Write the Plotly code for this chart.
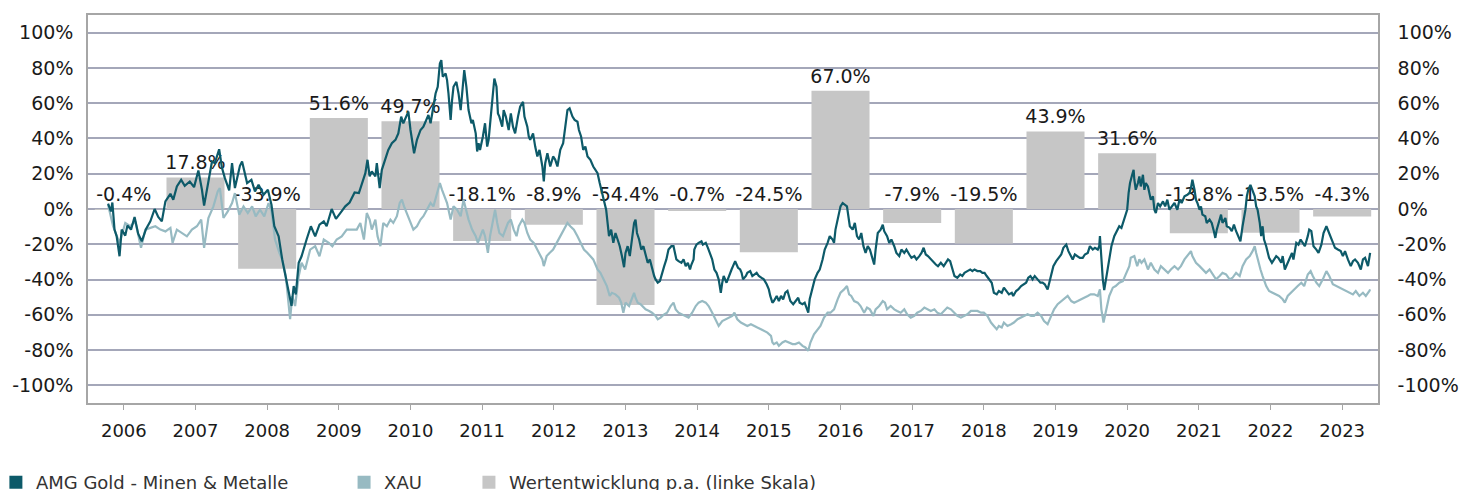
import plotly.graph_objects as go

# ---------------- data ----------------
years = list(range(2006, 2024))
annual_perf = [-0.4, 17.8, -33.9, 51.6, 49.7, -18.1, -8.9, -54.4, -0.7, -24.5,
               67.0, -7.9, -19.5, 43.9, 31.6, -13.8, -13.5, -4.3]

amg_dates = [
    2006.28, 2006.32, 2006.34, 2006.37, 2006.40, 2006.44, 2006.47, 2006.52, 2006.55, 2006.60,
    2006.65, 2006.70, 2006.75, 2006.81, 2006.87, 2006.93, 2006.98, 2007.03, 2007.08, 2007.15,
    2007.19, 2007.24, 2007.30, 2007.35, 2007.42, 2007.48, 2007.54, 2007.59, 2007.62, 2007.67,
    2007.73, 2007.77, 2007.83, 2007.87, 2007.91, 2007.97, 2008.01, 2008.05, 2008.12, 2008.15,
    2008.22, 2008.28, 2008.33, 2008.38, 2008.45, 2008.51, 2008.56, 2008.60, 2008.66, 2008.71,
    2008.76, 2008.81, 2008.84, 2008.87, 2008.90, 2008.94, 2008.98, 2009.05, 2009.11, 2009.17,
    2009.23, 2009.29, 2009.33, 2009.40, 2009.46, 2009.52, 2009.59, 2009.65, 2009.72,
    2009.78, 2009.82, 2009.87, 2009.90, 2009.93, 2009.96, 2010.01, 2010.03, 2010.07, 2010.10,
    2010.15, 2010.19, 2010.24, 2010.29, 2010.33, 2010.37, 2010.40, 2010.44, 2010.47, 2010.50,
    2010.53, 2010.55, 2010.59, 2010.64, 2010.68, 2010.72, 2010.75, 2010.78, 2010.81, 2010.85,
    2010.88, 2010.91, 2010.93, 2010.95, 2010.99, 2011.01, 2011.03, 2011.06, 2011.08, 2011.10,
    2011.14, 2011.17, 2011.20, 2011.22, 2011.25, 2011.28, 2011.31, 2011.35, 2011.37, 2011.41,
    2011.43, 2011.45, 2011.47, 2011.51, 2011.54, 2011.57, 2011.59, 2011.62, 2011.65, 2011.67,
    2011.70, 2011.72, 2011.74, 2011.78, 2011.80, 2011.83, 2011.87, 2011.90, 2011.93, 2011.96,
    2012.00, 2012.03, 2012.07, 2012.09, 2012.13, 2012.15, 2012.17, 2012.21, 2012.24, 2012.27,
    2012.30, 2012.34, 2012.36, 2012.38, 2012.41, 2012.45, 2012.49, 2012.52, 2012.55, 2012.59,
    2012.63, 2012.66, 2012.69, 2012.72, 2012.76, 2012.79, 2012.83, 2012.85, 2012.88, 2012.91,
    2012.94, 2012.97, 2013.01, 2013.05, 2013.08, 2013.11, 2013.14,
    2013.23, 2013.27, 2013.30, 2013.33, 2013.36, 2013.39, 2013.42, 2013.45, 2013.48, 2013.50,
    2013.53, 2013.56, 2013.59, 2013.62, 2013.64, 2013.66, 2013.69, 2013.72, 2013.75, 2013.78,
    2013.81, 2013.84, 2013.87, 2013.90, 2013.92, 2013.95, 2013.98, 2014.01, 2014.04, 2014.07,
    2014.10, 2014.14, 2014.17, 2014.18, 2014.21, 2014.24, 2014.28, 2014.31, 2014.34, 2014.37,
    2014.40, 2014.42, 2014.45, 2014.46, 2014.49, 2014.52, 2014.56, 2014.58, 2014.62, 2014.65,
    2014.68, 2014.71, 2014.74, 2014.77, 2014.80, 2014.83, 2014.85, 2014.87, 2014.91, 2014.94,
    2014.98, 2015.00, 2015.03, 2015.05, 2015.07, 2015.10, 2015.12, 2015.14, 2015.18, 2015.20,
    2015.24, 2015.27, 2015.30, 2015.33, 2015.36, 2015.39, 2015.43, 2015.47, 2015.50, 2015.52,
    2015.55, 2015.57, 2015.61, 2015.64, 2015.67, 2015.70, 2015.73, 2015.76, 2015.78, 2015.80,
    2015.84, 2015.87, 2015.91, 2015.93, 2015.97, 2016.00, 2016.03, 2016.05, 2016.07, 2016.11,
    2016.14, 2016.18, 2016.21, 2016.25, 2016.28, 2016.32, 2016.35, 2016.39, 2016.41, 2016.43,
    2016.46, 2016.48, 2016.50, 2016.53, 2016.56, 2016.59,
    2016.63, 2016.67, 2016.70, 2016.73, 2016.76, 2016.79, 2016.82, 2016.85, 2016.88, 2016.91,
    2016.95, 2016.97, 2016.99, 2017.02, 2017.06, 2017.09, 2017.11, 2017.15, 2017.18, 2017.21,
    2017.25, 2017.28, 2017.32, 2017.35, 2017.39, 2017.42, 2017.46, 2017.49, 2017.53, 2017.56,
    2017.60, 2017.63, 2017.66, 2017.69, 2017.72, 2017.76, 2017.80, 2017.83, 2017.86, 2017.90,
    2017.94, 2017.97, 2018.00, 2018.03, 2018.06, 2018.09, 2018.13, 2018.17, 2018.20, 2018.23,
    2018.27, 2018.31, 2018.34, 2018.37, 2018.41, 2018.45, 2018.48, 2018.51, 2018.54, 2018.57,
    2018.61, 2018.64, 2018.68, 2018.71, 2018.75, 2018.78, 2018.82, 2018.85, 2018.89, 2018.91,
    2018.95, 2018.98, 2019.02, 2019.05, 2019.09, 2019.12, 2019.15, 2019.18, 2019.21, 2019.25,
    2019.29, 2019.32, 2019.35, 2019.39, 2019.41, 2019.45, 2019.47, 2019.51, 2019.54, 2019.58,
    2019.61, 2019.65, 2019.68, 2019.71, 2019.74, 2019.77, 2019.81, 2019.84, 2019.88, 2019.91,
    2019.95, 2019.98, 2020.02, 2020.05, 2020.09, 2020.11, 2020.12, 2020.14, 2020.16, 2020.18,
    2020.22, 2020.25, 2020.28, 2020.32, 2020.36, 2020.39, 2020.42, 2020.46, 2020.50, 2020.52,
    2020.54, 2020.57, 2020.59, 2020.60, 2020.62, 2020.65, 2020.67, 2020.69, 2020.72, 2020.74,
    2020.76, 2020.79, 2020.81, 2020.83, 2020.86, 2020.88, 2020.90, 2020.93, 2020.96, 2021.00,
    2021.03, 2021.06, 2021.09, 2021.12, 2021.16, 2021.20, 2021.23, 2021.26, 2021.30, 2021.34,
    2021.37, 2021.39, 2021.41, 2021.44, 2021.46, 2021.48, 2021.51, 2021.53, 2021.55, 2021.59,
    2021.61, 2021.65, 2021.68, 2021.71, 2021.73, 2021.75, 2021.79, 2021.81, 2021.83, 2021.87,
    2021.89, 2021.93, 2021.96, 2021.99, 2022.02, 2022.05, 2022.08, 2022.11, 2022.15, 2022.17,
    2022.19, 2022.22, 2022.25, 2022.28, 2022.30, 2022.32, 2022.35, 2022.37, 2022.39, 2022.41,
    2022.44, 2022.46, 2022.48, 2022.52, 2022.55, 2022.58, 2022.61, 2022.65, 2022.67, 2022.70,
    2022.73, 2022.76, 2022.80, 2022.82, 2022.86, 2022.89, 2022.92, 2022.95, 2022.98, 2023.02,
    2023.04, 2023.07, 2023.10, 2023.14, 2023.17, 2023.21, 2023.24, 2023.28, 2023.30, 2023.34,
    2023.37, 2023.40, 2023.44, 2023.48, 2023.51, 2023.54, 2023.58, 2023.62, 2023.65, 2023.68,
    2023.72, 2023.76, 2023.79, 2023.82, 2023.86, 2023.88, 2023.89,
]
amg_values = [
    3.0, -1.3, 3.7, -11.7, -15.5, -26.8, -11.7, -15.1, -9.4, -11.7,
    -4.5, -14.0, -18.3, -11.3, -7.0, 0.0, -4.5, -7.0, 4.3, 8.6,
    5.3, 12.8, 16.5, 13.2, 15.6, 12.4, 21.8, 10.9, 1.9, 12.8,
    26.9, 26.0, 33.9, 23.2, 17.5, 10.5, 26.0, 11.9, 24.5, 26.9,
    14.7, 16.5, 9.9, 13.7, 8.1, 10.9, 2.4, -9.8, -15.5, -28.6,
    -38.1, -47.5, -55.0, -43.7, -48.4, -30.5, -26.8, -17.3, -9.8, -15.5,
    -8.9, -7.0, -9.8, 0.0, -5.6, -2.3, 1.5, 3.7, 9.4,
    9.0, 14.7, 20.3, 27.9, 18.5, 21.3, 18.5, 26.0, 11.9, 22.2,
    27.9, 33.5, 37.3, 39.2, 42.9, 52.4, 48.6, 52.4, 55.2, 44.8,
    35.4, 31.6, 39.2, 44.8, 46.7, 50.5, 53.3, 48.6, 56.1, 65.5,
    69.3, 82.5, 84.4, 75.0, 76.8, 73.1, 65.5, 50.5, 61.8, 69.3,
    72.1, 65.5, 56.1, 67.4, 78.7, 69.3, 56.1, 48.6, 50.5, 42.9,
    32.6, 37.3, 33.5, 41.1, 48.6, 35.4, 39.2, 52.4, 63.7, 74.0,
    69.3, 54.2, 52.4, 46.7, 56.1, 52.4, 44.8, 54.2, 46.7, 42.9,
    52.4, 58.0, 60.8, 52.4, 46.7, 41.1, 39.2, 42.9, 35.4, 29.8,
    33.5, 24.1, 15.6, 26.0, 31.6, 24.1, 29.8, 27.9, 24.1, 33.5,
    37.3, 48.6, 56.1, 57.1, 52.4, 50.5, 49.5, 44.8, 41.1, 33.5,
    35.4, 29.8, 27.9, 24.1, 22.2, 20.3, 14.7,
    -0.4, -15.4, -11.7, -19.2, -13.6, -17.3, -21.1, -26.7, -33.0, -24.9,
    -21.1, -26.7, -15.4, -7.9, -6.0, -13.6, -17.3, -23.0, -21.1, -26.7,
    -30.5, -28.6, -34.3, -38.0, -39.9, -41.8, -40.9, -36.2, -32.4, -28.6,
    -23.0, -21.1, -21.1, -23.0, -28.6, -29.6, -30.5, -28.6, -32.4, -30.5,
    -34.3, -31.5, -28.6, -23.0, -20.2, -19.2, -18.3, -20.2, -19.2, -22.0,
    -24.9, -28.6, -34.3, -36.2, -39.9, -47.5, -41.8, -38.0, -41.8, -38.0,
    -34.3, -32.4, -29.6, -31.5, -33.3, -34.3, -36.2, -39.9, -38.0, -36.2,
    -35.2, -38.0, -37.1, -36.2, -38.0, -39.0, -39.9, -42.7, -45.6, -49.3,
    -53.1, -52.2, -49.3, -52.2, -49.3, -51.2, -47.5, -46.5, -49.3, -52.2,
    -54.0, -52.2, -50.3, -53.1, -54.0, -53.1, -56.9, -58.8, -51.2, -43.7,
    -39.9, -36.2, -34.3, -28.6, -23.0, -19.2, -15.4, -17.3, -19.2, -11.7,
    -6.0, -2.3, 1.5, 3.4, 2.4, 1.5,
    -9.8, -11.7, -7.9, -15.4, -17.3, -13.6, -21.1, -24.9, -21.1, -23.0,
    -28.6, -31.5, -23.0, -13.6, -11.7, -8.9, -12.6, -15.4, -19.2, -17.3,
    -21.1, -24.9, -26.7, -23.0, -24.9, -23.0, -25.8, -27.7, -26.7, -28.6,
    -26.7, -24.9, -22.0, -25.8, -26.7, -28.6, -30.5, -31.5, -32.4, -30.5,
    -32.4, -30.5, -28.6, -29.6, -34.3, -38.0, -39.0, -37.1, -38.0, -36.2,
    -35.2, -34.3, -35.2, -34.3, -35.2, -35.2, -36.2, -36.2, -38.0, -39.9,
    -41.8, -47.5, -48.4, -46.5, -47.5, -44.6, -46.5, -48.4, -47.5, -49.3,
    -46.5, -45.6, -43.7, -42.7, -41.8, -39.0, -38.0, -39.9, -38.0, -39.9,
    -41.8, -41.8, -42.7, -45.6, -41.8, -34.3, -32.4, -29.6, -27.7, -25.8,
    -22.0, -20.2, -23.9, -26.7, -28.6, -25.8, -26.7, -27.7, -27.7, -25.8,
    -24.9, -21.1, -23.0, -22.0, -23.0, -21.1, -15.4, -30.5, -39.9, -46.0,
    -36.2, -28.6, -21.1, -15.4, -12.6, -9.8, -10.7, -6.0, -0.4, 9.0,
    14.7, 19.4, 22.2, 16.6, 10.9, 14.7, 18.5, 12.8, 19.4, 10.9,
    14.7, 12.8, 9.0, 5.3, 7.2, -0.4, -2.3, 3.4, 1.5, 4.3,
    1.5, 5.3, -0.4, 1.5, 3.4, -0.4, 5.3, 3.4, 7.2, 8.1,
    9.0, 11.9, 16.6, 10.9, 5.3, 3.4, -0.4, 1.5, -3.2, -4.1,
    -7.9, -6.0, -7.9, -12.6, -16.4, -11.7, -6.0, -3.2, -7.9, -5.1,
    -9.8, -10.7, -12.6, -8.9, -12.6, -15.4, -18.3, -9.8, -0.4, 7.2,
    10.9, 13.7, 10.9, 7.2, 1.5, -0.4, -7.9, -15.4, -9.8, -17.3,
    -21.1, -24.9, -27.7, -30.5, -28.6, -26.7, -27.7, -30.5, -26.7, -34.3,
    -31.5, -28.6, -24.9, -28.6, -19.2, -20.2, -17.3, -19.2, -21.1, -15.4,
    -11.7, -12.6, -21.1, -23.0, -24.9, -20.2, -13.6, -9.8, -11.7, -15.4,
    -19.2, -22.0, -23.0, -23.9, -26.7, -23.9, -28.6, -32.4, -29.6, -28.6,
    -30.5, -34.3, -28.6, -27.7, -32.4, -27.7, -24.9,
]

xau_dates = [
    2006.28, 2006.35, 2006.44, 2006.52, 2006.59, 2006.66, 2006.74, 2006.80, 2006.87, 2006.94,
    2007.01, 2007.08, 2007.15, 2007.18, 2007.24, 2007.31, 2007.38, 2007.45, 2007.52, 2007.58,
    2007.62, 2007.68, 2007.75, 2007.81, 2007.84, 2007.89, 2007.95, 2008.01, 2008.05, 2008.11,
    2008.17, 2008.23, 2008.29, 2008.34, 2008.40, 2008.46, 2008.52, 2008.56, 2008.61, 2008.67,
    2008.71, 2008.76, 2008.80, 2008.82, 2008.85, 2008.89, 2008.94, 2008.98, 2009.03, 2009.10,
    2009.17, 2009.23, 2009.29, 2009.36, 2009.41, 2009.47, 2009.54, 2009.61,
    2009.75, 2009.80, 2009.85, 2009.89, 2009.93, 2009.96, 2010.01, 2010.04, 2010.08, 2010.12,
    2010.17, 2010.22, 2010.26, 2010.31, 2010.35, 2010.38, 2010.41, 2010.45, 2010.50, 2010.54,
    2010.59, 2010.64, 2010.68, 2010.73, 2010.78, 2010.82, 2010.87, 2010.91, 2010.94, 2010.97,
    2011.01, 2011.06, 2011.10, 2011.15, 2011.20, 2011.24, 2011.28, 2011.31, 2011.36, 2011.41,
    2011.44, 2011.47, 2011.51, 2011.54, 2011.58, 2011.61, 2011.65, 2011.68, 2011.71, 2011.74,
    2011.79, 2011.82, 2011.86, 2011.90, 2011.94, 2011.98, 2012.01, 2012.06, 2012.09, 2012.13,
    2012.17, 2012.22, 2012.27, 2012.30, 2012.34, 2012.36, 2012.40, 2012.44, 2012.49, 2012.54,
    2012.59, 2012.64, 2012.69, 2012.73, 2012.78, 2012.83, 2012.87, 2012.92, 2012.97, 2013.01,
    2013.05, 2013.11, 2013.15,
    2013.24, 2013.28, 2013.31, 2013.36, 2013.41, 2013.44, 2013.47, 2013.50, 2013.55, 2013.59,
    2013.62, 2013.64, 2013.67, 2013.71, 2013.75, 2013.78, 2013.83, 2013.87, 2013.92, 2013.95,
    2013.99, 2014.04, 2014.08, 2014.13, 2014.17, 2014.20, 2014.24, 2014.29, 2014.34, 2014.38,
    2014.43, 2014.48, 2014.52, 2014.57, 2014.62, 2014.66, 2014.71, 2014.76, 2014.80, 2014.85,
    2014.90, 2014.94, 2014.99, 2015.02, 2015.06, 2015.11, 2015.15, 2015.20, 2015.25, 2015.29,
    2015.34, 2015.39, 2015.43, 2015.48, 2015.53, 2015.55, 2015.57, 2015.61, 2015.64, 2015.69,
    2015.73, 2015.78, 2015.83, 2015.87, 2015.92, 2015.97, 2016.01, 2016.05, 2016.08, 2016.13,
    2016.18, 2016.22, 2016.27, 2016.32,
    2016.36, 2016.41, 2016.46, 2016.50, 2016.55, 2016.59, 2016.62, 2016.65, 2016.69, 2016.74,
    2016.78, 2016.83, 2016.87, 2016.91, 2016.96, 2016.99, 2017.04, 2017.09, 2017.12, 2017.15,
    2017.20, 2017.25, 2017.29, 2017.34, 2017.39, 2017.43, 2017.48, 2017.53, 2017.57, 2017.62,
    2017.67, 2017.71, 2017.76, 2017.81, 2017.85, 2017.90, 2017.95, 2017.99, 2018.04, 2018.09,
    2018.13, 2018.18, 2018.22, 2018.27, 2018.32, 2018.36, 2018.41, 2018.46, 2018.50, 2018.55,
    2018.60, 2018.64, 2018.68, 2018.71, 2018.75, 2018.78, 2018.83, 2018.88, 2018.92, 2018.97,
    2019.02, 2019.06, 2019.11, 2019.16, 2019.20, 2019.25, 2019.30, 2019.34, 2019.39, 2019.44,
    2019.48, 2019.53, 2019.58, 2019.62, 2019.67, 2019.72, 2019.76, 2019.81, 2019.85, 2019.90,
    2019.95, 2019.99, 2020.04, 2020.09, 2020.12, 2020.14, 2020.17, 2020.19, 2020.22, 2020.25,
    2020.30, 2020.34, 2020.39, 2020.44, 2020.48, 2020.53, 2020.55,
    2020.60, 2020.64, 2020.67, 2020.70, 2020.74, 2020.79, 2020.83, 2020.88, 2020.93, 2020.97,
    2021.02, 2021.07, 2021.11, 2021.16, 2021.21, 2021.25, 2021.30, 2021.34, 2021.37, 2021.39,
    2021.41, 2021.46, 2021.51, 2021.55, 2021.60, 2021.65, 2021.69, 2021.74, 2021.79, 2021.83,
    2021.88, 2021.93, 2021.97, 2022.02, 2022.07, 2022.11, 2022.16, 2022.21, 2022.25, 2022.28,
    2022.30, 2022.32, 2022.36, 2022.39, 2022.44, 2022.48, 2022.53, 2022.58, 2022.62, 2022.67,
    2022.70, 2022.74, 2022.79, 2022.83, 2022.88, 2022.93, 2022.97, 2023.02, 2023.06, 2023.09,
    2023.14, 2023.18, 2023.23, 2023.28, 2023.32, 2023.37, 2023.42, 2023.46, 2023.51, 2023.55,
    2023.60, 2023.65, 2023.69, 2023.74, 2023.79, 2023.83, 2023.88, 2023.89,
]
xau_values = [
    2.4, -9.8, -19.2, -7.9, -9.8, -7.0, -22.0, -11.7, -10.7, -9.8,
    -11.7, -12.7, -10.7, -19.2, -11.7, -13.6, -15.5, -11.7, -9.8, -6.0,
    -22.0, -5.1, 1.5, 9.9, 11.9, -5.1, -1.4, 3.4, 9.0, -3.2,
    1.5, -2.3, 1.5, -4.2, -0.4, -4.2, 3.4, -1.4, -17.3, -24.9,
    -28.6, -38.1, -53.1, -62.5, -49.4, -55.0, -38.1, -30.5, -34.3, -23.0,
    -21.1, -26.8, -17.3, -19.2, -21.1, -17.3, -15.5, -11.7,
    -11.7, -7.9, -17.3, -2.3, -6.0, -11.7, -6.0, -15.4, -21.1, -7.9,
    -9.8, -6.0, -7.9, -4.1, 3.4, 5.3, 1.5, -2.3, -7.9, -11.7,
    -9.8, -6.0, -4.1, -0.4, 3.4, 1.5, 9.0, 14.7, 10.9, 7.2,
    3.4, -6.0, 1.5, -0.4, -4.1, 5.3, -2.3, -6.0, -11.7, -15.4,
    -19.2, -15.4, -11.7, -15.4, -24.9, -15.4, -6.0, -0.4, -7.9, -13.6,
    -15.4, -11.7, -7.9, -6.0, -11.7, -15.4, -9.8, -6.0, -7.9, -13.6,
    -17.3, -19.2, -23.0, -24.9, -28.6, -32.4, -26.7, -24.9, -23.0, -19.2,
    -15.4, -11.7, -7.9, -9.8, -11.7, -15.4, -19.2, -23.0, -24.9, -26.7,
    -28.6, -34.3, -36.2,
    -43.7, -49.3, -47.5, -48.4, -50.3, -53.1, -58.8, -53.1, -55.0, -51.2,
    -47.5, -50.3, -53.1, -54.0, -55.9, -56.9, -57.8, -58.8, -60.6, -62.5,
    -61.6, -59.7, -58.8, -55.0, -53.1, -56.9, -58.8, -59.7, -60.6, -61.6,
    -58.8, -55.0, -53.1, -52.2, -53.1, -55.0, -58.8, -62.5, -66.3, -63.5,
    -62.5, -61.6, -60.6, -58.8, -62.5, -64.4, -65.3, -66.3, -65.3, -66.3,
    -67.2, -68.2, -69.1, -70.1, -71.9, -75.7, -76.6, -75.7, -77.6, -75.7,
    -74.8, -75.7, -76.6, -76.6, -75.7, -77.6, -78.5, -80.4, -75.7, -71.0,
    -68.2, -66.3, -61.6, -58.8,
    -58.8, -56.9, -51.2, -47.5, -45.6, -43.7, -48.4, -49.3, -52.2, -53.1,
    -55.0, -58.8, -55.9, -56.9, -60.6, -56.9, -55.0, -52.2, -53.1, -56.9,
    -55.0, -56.9, -57.8, -58.8, -56.9, -59.7, -61.6, -60.6, -58.8, -57.8,
    -55.9, -56.9, -57.8, -56.9, -58.8, -59.7, -57.8, -55.9, -56.9, -58.8,
    -60.6, -61.6, -60.6, -59.7, -57.8, -57.8, -57.8, -58.8, -58.8, -60.6,
    -64.4, -66.3, -68.2, -66.3, -67.2, -64.4, -66.3, -65.3, -64.4, -62.5,
    -61.6, -60.6, -59.7, -60.6, -60.6, -58.8, -60.6, -63.5, -65.3, -60.6,
    -56.9, -54.0, -52.2, -51.2, -49.3, -52.2, -53.1, -52.2, -51.2, -50.3,
    -49.3, -48.4, -48.4, -49.3, -45.6, -56.9, -64.4, -60.6, -53.1, -49.3,
    -44.6, -43.7, -41.8, -40.9, -37.1, -32.4, -27.7,
    -26.7, -32.4, -28.6, -30.5, -28.6, -34.3, -30.5, -34.3, -36.2, -32.4,
    -34.3, -36.2, -34.3, -32.4, -34.3, -32.4, -28.6, -26.7, -24.9, -23.9,
    -26.7, -30.5, -32.4, -34.3, -36.2, -34.3, -37.1, -39.9, -38.0, -36.2,
    -37.1, -39.9, -39.0, -36.2, -38.0, -32.4, -28.6, -26.7, -23.9, -21.1,
    -24.9, -28.6, -34.3, -38.0, -43.7, -46.5, -47.5, -48.4, -49.3, -51.2,
    -53.1, -49.3, -47.5, -45.6, -43.7, -41.8, -43.7, -37.1, -35.2, -38.0,
    -41.8, -43.7, -39.9, -35.2, -38.0, -42.7, -43.7, -44.6, -45.6, -46.5,
    -47.5, -48.4, -46.5, -49.3, -47.5, -49.3, -46.5, -45.6,
]

y_ticks = [-100, -80, -60, -40, -20, 0, 20, 40, 60, 80, 100]

# ---------------- style ----------------
FONT = "DejaVu Sans"
DARK = "#0d5a69"
LIGHT = "#97bac2"
BAR = "#c6c6c6"
GRID = "#a4a7b9"
BORDER = "#a6a6a6"
TXT = "#1a1a1a"

# page body adds an 8px offset; figure sized so the plot area lands where intended
W, H = 1460, 482
M_L, M_R, M_T, M_B = 80, 90, 7, 87
Y_RANGE = [-110, 110]
px_per_unit = (H - M_T - M_B) / (Y_RANGE[1] - Y_RANGE[0])
LABEL_OFFSET_PX = 13

centers = [y + 0.5 for y in years]
label_y = [max(v, 0) + LABEL_OFFSET_PX / px_per_unit for v in annual_perf]
label_txt = [f"{v:.1f}%" for v in annual_perf]

fig = go.Figure()
fig.add_trace(go.Bar(x=centers, y=annual_perf, width=0.81, marker_color=BAR,
                     marker_line_width=0, showlegend=False, hoverinfo="skip"))
fig.add_trace(go.Scatter(x=centers, y=label_y, mode="text", text=label_txt,
                         textposition="middle center",
                         textfont=dict(family=FONT, size=19, color=TXT),
                         showlegend=False, hoverinfo="skip", cliponaxis=False))
fig.add_trace(go.Scatter(x=xau_dates, y=xau_values, mode="lines", yaxis="y2",
                         line=dict(color=LIGHT, width=2.2), showlegend=False))
fig.add_trace(go.Scatter(x=amg_dates, y=amg_values, mode="lines", yaxis="y2",
                         line=dict(color=DARK, width=2.2), showlegend=False))

# legend entries (square swatches)
for name, col, lg in [("AMG Gold - Minen & Metalle", DARK, "legend"),
                      ("XAU", LIGHT, "legend2"),
                      ("Wertentwicklung p.a. (linke Skala)", BAR, "legend3")]:
    fig.add_trace(go.Scatter(x=[None], y=[None], mode="markers", name=name,
                             marker=dict(symbol="square", size=13, color=col),
                             legend=lg, showlegend=True))

leg_common = dict(orientation="h", yanchor="middle", xanchor="left", y=-0.205,
                  bgcolor="rgba(0,0,0,0)", font=dict(family=FONT, size=18, color="#333333"))

fig.update_layout(
    width=W, height=H,
    margin=dict(l=M_L, r=M_R, t=M_T, b=M_B, autoexpand=False),
    paper_bgcolor="white", plot_bgcolor="white",
    barmode="overlay",
    font=dict(family=FONT, size=18, color=TXT),
    legend=dict(x=-0.0714, **leg_common),
    legend2=dict(x=0.1985, **leg_common),
    legend3=dict(x=0.2953, **leg_common),
    xaxis=dict(range=[2006, 2024], tickvals=centers, ticktext=[str(y) for y in years],
               ticks="outside", ticklen=5, tickcolor=BORDER, tickwidth=1,
               showgrid=False, zeroline=False, showline=True, linecolor=BORDER,
               linewidth=1.5, mirror=True, ticklabelstandoff=6,
               tickfont=dict(family=FONT, size=18, color=TXT)),
    yaxis=dict(range=Y_RANGE, tickvals=y_ticks, ticktext=[f"{t}%" for t in y_ticks],
               showgrid=True, gridcolor=GRID, gridwidth=1.5, zeroline=False,
               showline=True, linecolor=BORDER, linewidth=1.5, ticks="",
               ticklabelstandoff=9, tickfont=dict(family=FONT, size=19, color=TXT)),
    yaxis2=dict(range=Y_RANGE, tickvals=y_ticks, ticktext=[f"{t}%" for t in y_ticks],
                overlaying="y", side="right", showgrid=False, zeroline=False,
                showline=True, linecolor=BORDER, linewidth=1.5, ticks="",
                ticklabelstandoff=14, tickfont=dict(family=FONT, size=19, color=TXT)),
)

fig.write_html("out.html")
